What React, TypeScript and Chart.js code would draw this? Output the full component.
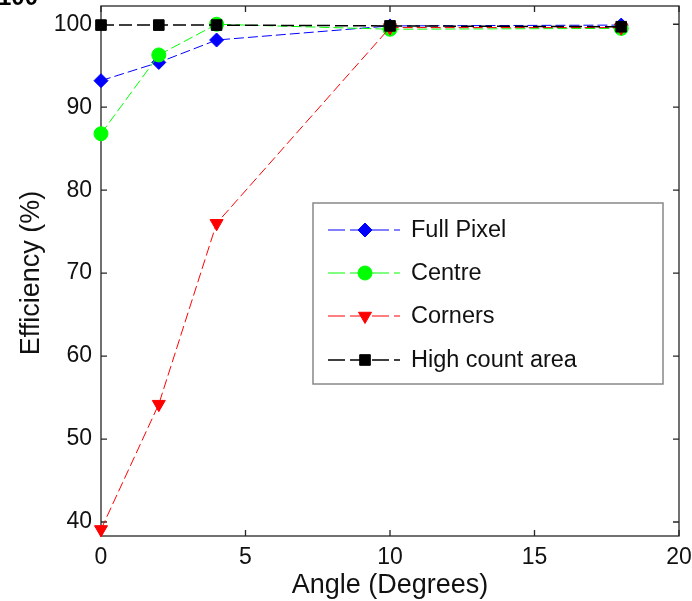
import React, { useEffect, useRef } from 'react';
import { Chart, registerables } from 'chart.js';
Chart.register(...registerables);

const angles = [0, 2, 4, 10, 18];
const fullPixel = [93.2, 95.4, 98.1, 99.8, 99.9];
const centre = [86.8, 96.3, 100, 99.4, 99.5];
const corners = [39.1, 54.2, 76.0, 99.6, 99.6];
const highCount = [99.9, 99.9, 99.9, 99.8, 99.7];
const seriesNames = ['Full Pixel', 'Centre', 'Corners', 'High count area'];
const xTicks = [0, 5, 10, 15, 20];
const yTicks = [40, 50, 60, 70, 80, 90, 100];
const xTitle = 'Angle (Degrees)';
const yTitle = 'Efficiency (%)';

const FONT = 'Arial, "Liberation Sans", sans-serif';

type Spec = { name: string; data: number[]; color: string; style: string; r: number; width: number; dash: number[] };

const specs: Spec[] = [
  { name: seriesNames[0], data: fullPixel, color: '#0000ff', style: 'rectRot', r: 7, width: 1, dash: [10, 4] },
  { name: seriesNames[1], data: centre, color: '#00ff00', style: 'circle', r: 7, width: 1, dash: [10, 4] },
  { name: seriesNames[2], data: corners, color: '#ff0000', style: 'triangle', r: 7.5, width: 1, dash: [10, 4] },
  { name: seriesNames[3], data: highCount, color: '#000000', style: 'rect', r: 7.5, width: 1.5, dash: [13, 5] },
];

function drawMarker(ctx: CanvasRenderingContext2D, style: string, x: number, y: number, r: number, color: string) {
  ctx.save();
  ctx.setLineDash([]);
  ctx.fillStyle = color;
  ctx.strokeStyle = color;
  ctx.lineWidth = 1;
  ctx.beginPath();
  if (style === 'circle') {
    ctx.arc(x, y, r, 0, Math.PI * 2);
  } else if (style === 'rectRot') {
    ctx.moveTo(x, y - r);
    ctx.lineTo(x + r, y);
    ctx.lineTo(x, y + r);
    ctx.lineTo(x - r, y);
    ctx.closePath();
  } else if (style === 'triangle') {
    const a = Math.PI;
    for (let i = 0; i < 3; i++) {
      const ang = a + (i * 2 * Math.PI) / 3;
      const px = x + Math.sin(ang) * r;
      const py = y - Math.cos(ang) * r;
      if (i === 0) ctx.moveTo(px, py);
      else ctx.lineTo(px, py);
    }
    ctx.closePath();
  } else {
    const s = Math.SQRT1_2 * r;
    ctx.rect(x - s, y - s, 2 * s, 2 * s);
  }
  ctx.fill();
  ctx.stroke();
  ctx.restore();
}

const decor = {
  id: 'decor',
  beforeDatasetsDraw(chart: any) {
    const { ctx, chartArea, scales } = chart;
    const { left, right, top, bottom } = chartArea;
    ctx.save();
    ctx.strokeStyle = '#262626';
    ctx.lineWidth = 1.3;
    ctx.strokeRect(left, top, right - left, bottom - top);
    ctx.beginPath();
    xTicks.forEach((v) => {
      const px = scales.x.getPixelForValue(v);
      ctx.moveTo(px, bottom);
      ctx.lineTo(px, bottom - 6);
      ctx.moveTo(px, top);
      ctx.lineTo(px, top + 6);
    });
    yTicks.forEach((v) => {
      const py = scales.y.getPixelForValue(v);
      ctx.moveTo(left, py);
      ctx.lineTo(left + 6, py);
      ctx.moveTo(right, py);
      ctx.lineTo(right - 6, py);
    });
    ctx.stroke();
    ctx.restore();
  },
  afterDraw(chart: any) {
    const { ctx, chartArea } = chart;
    const { left, right, top, bottom } = chartArea;
    ctx.save();
    ctx.fillStyle = '#000';
    ctx.font = `bold 24px ${FONT}`;
    ctx.textAlign = 'left';
    ctx.textBaseline = 'alphabetic';
    ctx.fillText('100', -2, 5);

    ctx.font = `27px ${FONT}`;
    ctx.textAlign = 'center';
    ctx.fillStyle = '#111';
    ctx.fillText(xTitle, (left + right) / 2, 593);
    ctx.save();
    ctx.translate(39, (top + bottom) / 2 + 2);
    ctx.rotate(-Math.PI / 2);
    ctx.fillText(yTitle, 0, 0);
    ctx.restore();

    const lx = 313, ly = 203, lw = 350, lh = 181;
    ctx.fillStyle = '#fff';
    ctx.fillRect(lx, ly, lw, lh);
    ctx.strokeStyle = '#888';
    ctx.lineWidth = 1.5;
    ctx.strokeRect(lx, ly, lw, lh);
    const rows = [230, 273, 316, 360];
    ctx.font = `23.5px ${FONT}`;
    ctx.textAlign = 'left';
    ctx.textBaseline = 'middle';
    specs.forEach((s, i) => {
      const yy = rows[i];
      ctx.save();
      ctx.strokeStyle = s.color;
      ctx.lineWidth = s.width;
      ctx.setLineDash([17, 5]);
      ctx.beginPath();
      ctx.moveTo(328, yy);
      ctx.lineTo(400, yy);
      ctx.stroke();
      ctx.restore();
      drawMarker(ctx, s.style, 365, yy, s.r, s.color);
      ctx.fillStyle = '#111';
      ctx.fillText(s.name, 411, yy + 1);
    });
    ctx.restore();
  },
};

export default function App() {
  const ref = useRef<HTMLCanvasElement | null>(null);
  useEffect(() => {
    document.body.style.margin = '0';
    const canvas = ref.current;
    if (!canvas) return;
    const chart = new Chart(canvas, {
      type: 'line',
      data: {
        datasets: specs.map((s, i) => ({
          label: s.name,
          data: angles.map((a, j) => ({ x: a, y: s.data[j] })),
          borderColor: s.color,
          backgroundColor: s.color,
          borderWidth: s.width,
          borderDash: s.dash,
          pointStyle: s.style,
          pointRadius: s.r,
          pointRotation: s.style === 'triangle' ? 180 : 0,
          pointBorderWidth: 1,
          pointBorderColor: s.color,
          pointBackgroundColor: s.color,
          tension: 0,
          fill: false,
          clip: false as any,
          order: 4 - i,
        })),
      },
      options: {
        responsive: false,
        animation: false,
        layout: { autoPadding: false, padding: { top: 6, right: 13, left: 0, bottom: 0 } },
        plugins: { legend: { display: false }, tooltip: { enabled: false } },
        scales: {
          x: {
            type: 'linear',
            min: 0,
            max: 20,
            grid: { display: false, drawTicks: false },
            border: { display: false },
            ticks: { color: '#111', font: { family: FONT, size: 23 }, padding: 8, maxRotation: 0 },
            afterBuildTicks: (scale: any) => {
              scale.ticks = xTicks.map((v) => ({ value: v }));
            },
            afterFit: (scale: any) => {
              scale.height = 65;
              scale.paddingLeft = 0;
              scale.paddingRight = 0;
            },
          },
          y: {
            type: 'linear',
            min: 38.31,
            max: 102.2,
            grid: { display: false, drawTicks: false },
            border: { display: false },
            ticks: { color: '#111', font: { family: FONT, size: 23 }, padding: 9 },
            afterBuildTicks: (scale: any) => {
              scale.ticks = yTicks.map((v) => ({ value: v }));
            },
            afterFit: (scale: any) => {
              scale.width = 101;
              scale.paddingTop = 0;
              scale.paddingBottom = 0;
            },
          },
        },
      },
      plugins: [decor],
    });
    return () => chart.destroy();
  }, []);
  return (
    <div style={{ position: 'absolute', left: 0, top: 0, width: 692, height: 601 }}>
      <canvas ref={ref} width={692} height={601} style={{ width: 692, height: 601, display: 'block' }} />
    </div>
  );
}
